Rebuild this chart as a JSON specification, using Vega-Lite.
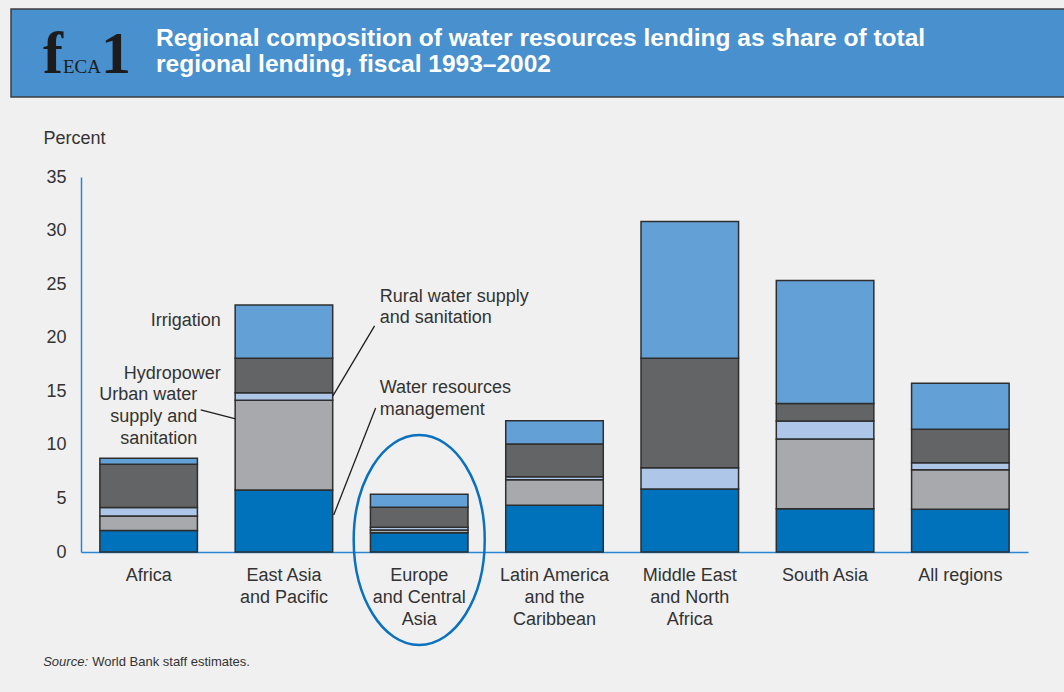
{
  "$schema": "https://vega.github.io/schema/vega-lite/v6.json",
  "background": "#f0f0f0",
  "padding": {"left": 10, "top": 8, "right": 0, "bottom": 24},
  "spacing": 31,
  "config": {
    "view": {"stroke": null},
    "font": "Liberation Sans",
    "text": {"font": "Liberation Sans"}
  },
  "vconcat": [
    {
      "width": 1054,
      "height": 88,
      "view": {"fill": "#4990ce", "stroke": "#3d3d3d", "strokeWidth": 1.5},
      "title": {
        "text": ["Regional composition of water resources lending as share of total", "regional lending, fiscal 1993–2002"],
        "anchor": "start",
        "frame": "group",
        "orient": "top",
        "dx": 145,
        "offset": -68,
        "baseline": "top",
        "font": "Liberation Sans",
        "fontSize": 24.5,
        "fontWeight": "bold",
        "color": "#ffffff",
        "lineHeight": 26
      },
      "data": {"values": [{}]},
      "layer": [
        {
          "mark": {"type": "text", "font": "Liberation Serif", "fontSize": 60, "fontWeight": "bold", "color": "#1c1c1c", "align": "left", "baseline": "alphabetic"},
          "encoding": {"x": {"value": 32}, "y": {"value": 64}, "text": {"value": "f"}}
        },
        {
          "mark": {"type": "text", "font": "Liberation Serif", "fontSize": 19, "color": "#1c1c1c", "align": "left", "baseline": "alphabetic"},
          "encoding": {"x": {"value": 52}, "y": {"value": 64}, "text": {"value": "ECA"}}
        },
        {
          "mark": {"type": "text", "font": "Liberation Serif", "fontSize": 60, "fontWeight": "bold", "color": "#1c1c1c", "align": "left", "baseline": "alphabetic"},
          "encoding": {"x": {"value": 90}, "y": {"value": 64}, "text": {"value": "1"}}
        }
      ]
    },
    {
      "spacing": 0,
      "hconcat": [
        {
          "width": 1,
          "height": 1,
          "data": {"values": []},
          "mark": "text"
        },
        {
          "width": 947,
          "height": 375,
          "resolve": {"scale": {"x": "independent"}, "axis": {"y": "independent"}},
          "layer": [
            {
              "data": {
                "values": [
                  {"region": "Africa", "sector": "Water resources management", "tier": 1, "share": 2.0},
                  {"region": "Africa", "sector": "Urban water supply and sanitation", "tier": 2, "share": 1.37},
                  {"region": "Africa", "sector": "Rural water supply and sanitation", "tier": 3, "share": 0.78},
                  {"region": "Africa", "sector": "Hydropower", "tier": 4, "share": 4.05},
                  {"region": "Africa", "sector": "Irrigation", "tier": 5, "share": 0.56},
                  {"region": "East Asia and Pacific", "sector": "Water resources management", "tier": 1, "share": 5.79},
                  {"region": "East Asia and Pacific", "sector": "Urban water supply and sanitation", "tier": 2, "share": 8.37},
                  {"region": "East Asia and Pacific", "sector": "Rural water supply and sanitation", "tier": 3, "share": 0.71},
                  {"region": "East Asia and Pacific", "sector": "Hydropower", "tier": 4, "share": 3.22},
                  {"region": "East Asia and Pacific", "sector": "Irrigation", "tier": 5, "share": 4.97},
                  {"region": "Europe and Central Asia", "sector": "Water resources management", "tier": 1, "share": 1.8},
                  {"region": "Europe and Central Asia", "sector": "Urban water supply and sanitation", "tier": 2, "share": 0.25},
                  {"region": "Europe and Central Asia", "sector": "Rural water supply and sanitation", "tier": 3, "share": 0.26},
                  {"region": "Europe and Central Asia", "sector": "Hydropower", "tier": 4, "share": 1.86},
                  {"region": "Europe and Central Asia", "sector": "Irrigation", "tier": 5, "share": 1.22},
                  {"region": "Latin America and the Caribbean", "sector": "Water resources management", "tier": 1, "share": 4.36},
                  {"region": "Latin America and the Caribbean", "sector": "Urban water supply and sanitation", "tier": 2, "share": 2.39},
                  {"region": "Latin America and the Caribbean", "sector": "Rural water supply and sanitation", "tier": 3, "share": 0.28},
                  {"region": "Latin America and the Caribbean", "sector": "Hydropower", "tier": 4, "share": 3.05},
                  {"region": "Latin America and the Caribbean", "sector": "Irrigation", "tier": 5, "share": 2.18},
                  {"region": "Middle East and North Africa", "sector": "Water resources management", "tier": 1, "share": 5.88},
                  {"region": "Middle East and North Africa", "sector": "Rural water supply and sanitation", "tier": 3, "share": 1.99},
                  {"region": "Middle East and North Africa", "sector": "Hydropower", "tier": 4, "share": 10.22},
                  {"region": "Middle East and North Africa", "sector": "Irrigation", "tier": 5, "share": 12.75},
                  {"region": "South Asia", "sector": "Water resources management", "tier": 1, "share": 4.04},
                  {"region": "South Asia", "sector": "Urban water supply and sanitation", "tier": 2, "share": 6.51},
                  {"region": "South Asia", "sector": "Rural water supply and sanitation", "tier": 3, "share": 1.68},
                  {"region": "South Asia", "sector": "Hydropower", "tier": 4, "share": 1.62},
                  {"region": "South Asia", "sector": "Irrigation", "tier": 5, "share": 11.48},
                  {"region": "All regions", "sector": "Water resources management", "tier": 1, "share": 3.99},
                  {"region": "All regions", "sector": "Urban water supply and sanitation", "tier": 2, "share": 3.69},
                  {"region": "All regions", "sector": "Rural water supply and sanitation", "tier": 3, "share": 0.66},
                  {"region": "All regions", "sector": "Hydropower", "tier": 4, "share": 3.12},
                  {"region": "All regions", "sector": "Irrigation", "tier": 5, "share": 4.29}
                ]
              },
              "mark": {"type": "bar", "stroke": "#2e2e2e", "strokeWidth": 1.5},
              "encoding": {
                "x": {
                  "field": "region",
                  "type": "nominal",
                  "sort": null,
                  "scale": {"paddingInner": 0.279, "paddingOuter": 0.1395},
                  "axis": {
                    "title": "Source:",
                    "titleFont": "Liberation Sans",
                    "titleFontStyle": "italic",
                    "titleFontSize": 13,
                    "titleFontWeight": "normal",
                    "titleColor": "#333333",
                    "titleX": -38.3,
                    "titleY": 109,
                    "titleAlign": "left",
                    "titleBaseline": "middle",
                    "labelAngle": 0,
                    "labelFont": "Liberation Sans",
                    "labelFontSize": 18,
                    "labelColor": "#333333",
                    "labelPadding": 14,
                    "labelLineHeight": 22,
                    "ticks": false,
                    "domainColor": "#2a86d1",
                    "domainWidth": 1.5,
                    "labelExpr": "datum.value == 'East Asia and Pacific' ? ['East Asia', 'and Pacific'] : datum.value == 'Europe and Central Asia' ? ['Europe', 'and Central', 'Asia'] : datum.value == 'Latin America and the Caribbean' ? ['Latin America', 'and the', 'Caribbean'] : datum.value == 'Middle East and North Africa' ? ['Middle East', 'and North', 'Africa'] : datum.label"
                  }
                },
                "y": {
                  "field": "share",
                  "type": "quantitative",
                  "stack": "zero",
                  "scale": {"domain": [0, 35], "nice": false},
                  "axis": {
                    "title": "Percent",
                    "titleAngle": 0,
                    "titleAlign": "left",
                    "titleBaseline": "middle",
                    "titleX": -38,
                    "titleY": -39,
                    "titleFont": "Liberation Sans",
                    "titleFontSize": 18,
                    "titleFontWeight": "normal",
                    "titleColor": "#333333",
                    "values": [0, 5, 10, 15, 20, 25, 30, 35],
                    "labelFont": "Liberation Sans",
                    "labelFontSize": 18,
                    "labelColor": "#333333",
                    "labelPadding": 15,
                    "ticks": false,
                    "grid": false,
                    "domainColor": "#2a86d1",
                    "domainWidth": 1.5
                  }
                },
                "color": {
                  "field": "sector",
                  "type": "nominal",
                  "scale": {
                    "domain": ["Water resources management", "Urban water supply and sanitation", "Rural water supply and sanitation", "Hydropower", "Irrigation"],
                    "range": ["#0072bc", "#a7a9ac", "#aec6e8", "#636466", "#63a0d6"]
                  },
                  "legend": null
                },
                "order": {"field": "tier", "type": "quantitative", "sort": "ascending"}
              }
            },
            {
              "data": {"values": [{}]},
              "mark": {
                "type": "point",
                "shape": "M -0.624 0 A 0.624 1 0 1 1 0.624 0 A 0.624 1 0 1 1 -0.624 0 Z",
                "size": 44100,
                "filled": false,
                "stroke": "#0b71bf",
                "strokeWidth": 2.5,
                "opacity": 1
              },
              "encoding": {
                "x": {"datum": 2.5, "type": "quantitative", "scale": {"domain": [0, 7], "nice": false, "zero": false}, "axis": null},
                "y": {"datum": 1.12, "type": "quantitative", "scale": {"domain": [0, 35], "nice": false}, "axis": null}
              }
            },
            {
              "data": {
                "values": [
                  {"x1": 0.885, "y1": 13.26, "x2": 1.143, "y2": 12.42},
                  {"x1": 1.862, "y1": 14.57, "x2": 2.17, "y2": 21.1},
                  {"x1": 2.178, "y1": 13.45, "x2": 1.868, "y2": 3.45}
                ]
              },
              "mark": {"type": "rule", "stroke": "#1e1e1e", "strokeWidth": 1.3},
              "encoding": {
                "x": {"field": "x1", "type": "quantitative", "scale": {"domain": [0, 7], "nice": false, "zero": false}, "axis": null},
                "x2": {"field": "x2"},
                "y": {
                  "field": "y1",
                  "type": "quantitative",
                  "scale": {"domain": [0, 35], "nice": false},
                  "axis": {
                    "orient": "left",
                    "offset": 68.5,
                    "domainOpacity": 0,
                    "labels": false,
                    "ticks": false,
                    "grid": false,
                    "title": "World Bank staff estimates.",
                    "titleAngle": 0,
                    "titleAlign": "left",
                    "titleBaseline": "middle",
                    "titleX": 79.2,
                    "titleY": 484,
                    "titleFont": "Liberation Sans",
                    "titleFontSize": 13,
                    "titleFontWeight": "normal",
                    "titleColor": "#333333"
                  }
                },
                "y2": {"field": "y2"}
              }
            },
            {
              "data": {
                "values": [
                  {"note": "Irrigation", "nx": 1.0325, "ny": 21.57},
                  {"note": "Hydropower", "nx": 1.0325, "ny": 16.6},
                  {"note": "Urban water\nsupply and\nsanitation", "nx": 0.859, "ny": 14.66}
                ]
              },
              "mark": {"type": "text", "align": "right", "baseline": "middle", "lineBreak": "\n", "lineHeight": 22, "fontSize": 18, "color": "#333333", "font": "Liberation Sans"},
              "encoding": {
                "x": {"field": "nx", "type": "quantitative", "scale": {"domain": [0, 7], "nice": false, "zero": false}, "axis": null},
                "y": {"field": "ny", "type": "quantitative", "scale": {"domain": [0, 35], "nice": false}, "axis": null},
                "text": {"field": "note"}
              }
            },
            {
              "data": {
                "values": [
                  {"note": "Rural water supply\nand sanitation", "nx": 2.208, "ny": 23.81},
                  {"note": "Water resources\nmanagement", "nx": 2.208, "ny": 15.3}
                ]
              },
              "mark": {"type": "text", "align": "left", "baseline": "middle", "lineBreak": "\n", "lineHeight": 21.5, "fontSize": 18, "color": "#333333", "font": "Liberation Sans"},
              "encoding": {
                "x": {"field": "nx", "type": "quantitative", "scale": {"domain": [0, 7], "nice": false, "zero": false}, "axis": null},
                "y": {"field": "ny", "type": "quantitative", "scale": {"domain": [0, 35], "nice": false}, "axis": null},
                "text": {"field": "note"}
              }
            }
          ]
        }
      ]
    }
  ]
}
